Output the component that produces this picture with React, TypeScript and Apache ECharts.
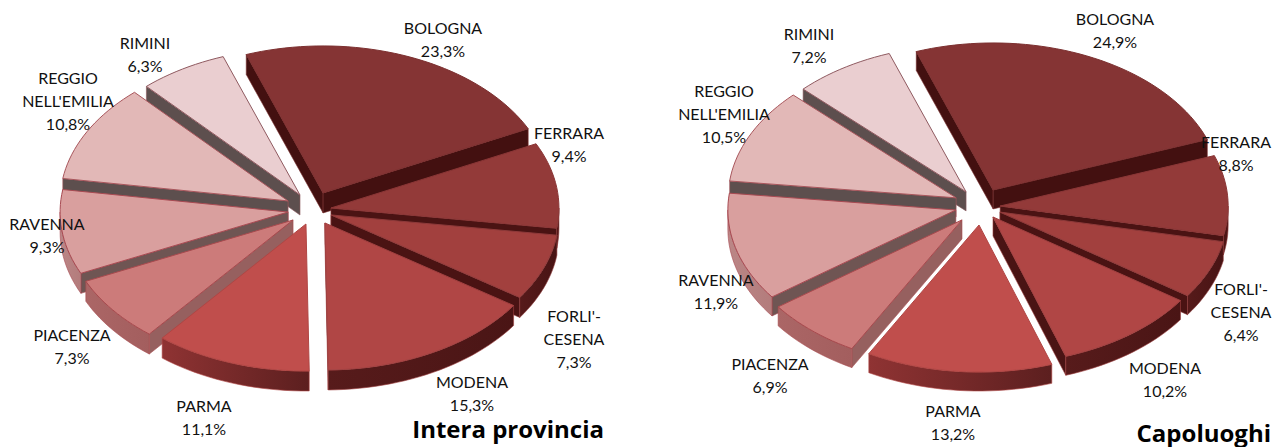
import React, { useEffect, useRef } from "react";
import * as echarts from "echarts";

// ---- data ----
const categories = ["BOLOGNA", "FERRARA", "FORLI'-\nCESENA", "MODENA", "PARMA", "PIACENZA", "RAVENNA", "REGGIO\nNELL'EMILIA", "RIMINI"];
const provinciaValues = [23.3, 9.4, 7.3, 15.3, 11.1, 7.3, 9.3, 10.8, 6.3];
const capoluoghiValues = [24.9, 8.8, 6.4, 10.2, 13.2, 6.9, 11.9, 10.5, 7.2];
const provinciaTitle = "Intera provincia";
const capoluoghiTitle = "Capoluoghi";

// ---- styles ----
const topColors = ["#853434", "#933a39", "#a2403e", "#b04645", "#c04e4c", "#cc7b7a", "#d99f9e", "#e2b8b7", "#eaced0"];
const topStrokes = ["#7c3030", "#8a3636", "#8e3a3a", "#a04040", "#b04644", "#a84a4e", "#a84a52", "#a8565c", "#8f5a60"];
const rimColors = [
  ["#4e1515", "#4e1515"], ["#4e1515", "#4e1515"], ["#561a1a", "#481414"], ["#571b1b", "#4a1515"],
  ["#8f3333", "#5c1f1f"], ["#ab6666", "#a35e5e"], ["#bb8686", "#b37c7c"], ["#c49a9a", "#c49a9a"], ["#c9a9a9", "#c9a9a9"],
];
const edgeColors = ["#431010", "#4a1313", "#4a1313", "#4a1414", "#6e2828", "#96605f", "#6f5553", "#5d4f4e", "#5d4f4e"];
const fontFamily = "Lato, 'Noto Sans', sans-serif";
const titleFontFamily = "'Open Sans', 'Noto Sans', sans-serif";

// ---- layout ----
const RX = 228;
const RY = 147;
const START_ANGLE = -19.7;
const provinciaCenter = [310, 209];
const capoluoghiCenter = [979, 207];
const provinciaDepth = 20;
const capoluoghiDepth = 19;
// explosion of each slice, as fractions of the horizontal and vertical radii
const provinciaExplode = [[0.152, 0.118], [0.093, 0.043], [0.099, 0.113], [0.138, 0.108], [0.054, 0.108], [0.094, 0.122], [0.097, 0.15], [0.109, 0.116], [0.085, 0.111]];
const capoluoghiExplode = [[0.146, 0.128], [0.093, 0.09], [0.1, 0.088], [0.102, 0.085], [0.0, 0.123], [0.113, 0.117], [0.105, 0.08], [0.111, 0.145], [0.105, 0.122]];
const provinciaLabelAt = [[443, 39], [569, 144], [574, 338], [472, 393], [204, 417], [72, 346], [47, 235], [68, 100], [145, 54]];
const capoluoghiLabelAt = [[1115, 30], [1236, 153], [1241, 311], [1165, 379], [953, 422], [770, 375], [716, 291], [724, 113], [809, 45]];

function pieSeries(values: number[], center: number[], explode: number[][], labelAt: number[][], depth: number) {
  const total = values.reduce((a, b) => a + b, 0);
  const starts: number[] = [];
  let acc = START_ANGLE;
  for (const v of values) {
    starts.push(acc);
    acc += (v / total) * 360;
  }
  const mids = values.map((v, i) => starts[i] + ((v / total) * 360) / 2);
  // painter's order: back slices first
  const order = mids.map((m, i) => [Math.cos((m * Math.PI) / 180), i]).sort((a, b) => b[0] - a[0]).map((p) => p[1]);

  return {
    type: "custom",
    coordinateSystem: "none",
    silent: true,
    data: values.map((v, i) => [v, i]),
    renderItem: (_params: any, api: any) => {
      const value = api.value(0) as number;
      const i = api.value(1) as number;
      const s = starts[i];
      const e = s + (value / total) * 360;
      const m = (((s + e) / 2) * Math.PI) / 180;
      const ax = center[0] + explode[i][0] * RX * Math.sin(m);
      const ay = center[1] - explode[i][1] * RY * Math.cos(m);
      const rim = (deg: number, dy = 0) => {
        const r = (deg * Math.PI) / 180;
        return [ax + RX * Math.sin(r), ay - RY * Math.cos(r) + dy];
      };
      const arc = (from: number, to: number, dy = 0) => {
        const n = Math.max(1, Math.ceil((to - from) / 2));
        const pts: number[][] = [];
        for (let k = 0; k <= n; k++) pts.push(rim(from + ((to - from) * k) / n, dy));
        return pts;
      };
      const z = order.indexOf(i) * 4 + 1;
      const children: any[] = [];
      const edgeStyle = { fill: edgeColors[i], stroke: topStrokes[i], lineWidth: 0.6 };
      const p0 = rim(s);
      const p1 = rim(e);
      if (p0[0] < ax) {
        children.push({
          type: "polygon", z2: z,
          shape: { points: [[ax, ay], p0, [p0[0], p0[1] + depth], [ax, ay + depth]] },
          style: edgeStyle,
        });
      }
      if (p1[0] > ax) {
        children.push({
          type: "polygon", z2: z,
          shape: { points: [[ax, ay], p1, [p1[0], p1[1] + depth], [ax, ay + depth]] },
          style: edgeStyle,
        });
      }
      const rs = Math.max(s, 90);
      const re = Math.min(e, 270);
      if (re > rs) {
        children.push({
          type: "polygon", z2: z + 1,
          shape: { points: [...arc(rs, re), ...arc(rs, re, depth).reverse()] },
          style: {
            fill: new echarts.graphic.LinearGradient(0, 0, 1, 0, [
              { offset: 0, color: rimColors[i][0] },
              { offset: 1, color: rimColors[i][1] },
            ]),
            stroke: topStrokes[i],
            lineWidth: 0.6,
          },
        });
      }
      children.push({
        type: "polygon", z2: z + 2,
        shape: { points: [[ax, ay], ...arc(s, e)] },
        style: { fill: topColors[i], stroke: topStrokes[i], lineWidth: 1, lineJoin: "round" },
      });
      children.push({
        type: "text", z2: 100, x: labelAt[i][0], y: labelAt[i][1],
        style: {
          text: `${categories[i]}\n${value.toFixed(1).replace(".", ",")}%`,
          fill: "#111111",
          font: `16px ${fontFamily}`,
          align: "center",
          verticalAlign: "middle",
          lineHeight: 23,
        },
      });
      return { type: "group", children };
    },
  };
}

export default function App() {
  const ref = useRef<HTMLDivElement>(null);
  useEffect(() => {
    document.body.style.margin = "0";
    const chart = echarts.init(ref.current!, undefined, { renderer: "svg" });
    chart.setOption({
      animation: false,
      backgroundColor: "#ffffff",
      title: [
        { text: provinciaTitle, right: 1282 - 604, top: 416.5, padding: 0, textStyle: { fontFamily: titleFontFamily, fontSize: 24, lineHeight: 24, fontWeight: "bold", color: "#000000" } },
        { text: capoluoghiTitle, right: 1282 - 1271, top: 420, padding: 0, textStyle: { fontFamily: titleFontFamily, fontSize: 24, lineHeight: 24, fontWeight: "bold", color: "#000000" } },
      ],
      series: [
        pieSeries(provinciaValues, provinciaCenter, provinciaExplode, provinciaLabelAt, provinciaDepth),
        pieSeries(capoluoghiValues, capoluoghiCenter, capoluoghiExplode, capoluoghiLabelAt, capoluoghiDepth),
      ],
    });
    return () => chart.dispose();
  }, []);
  return <div ref={ref} style={{ width: 1282, height: 447 }} />;
}
